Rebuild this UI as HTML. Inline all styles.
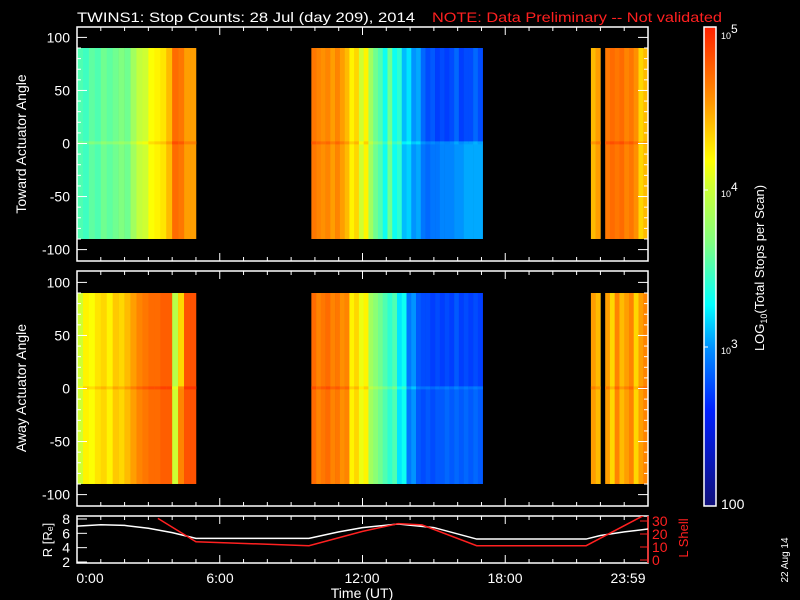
<!DOCTYPE html>
<html><head><meta charset="utf-8"><style>
html,body{margin:0;padding:0;background:#000;}
svg{display:block;font-family:"Liberation Sans",sans-serif;}
</style></head><body>
<svg id="c" width="800" height="600" viewBox="0 0 800 600">
<defs>
<linearGradient id="cbg" x1="0" y1="1" x2="0" y2="0">
<stop offset="0" stop-color="#10107a"/><stop offset="0.2" stop-color="#0020ff"/><stop offset="0.33" stop-color="#0090ff"/>
<stop offset="0.42" stop-color="#00ffff"/><stop offset="0.55" stop-color="#80ff80"/><stop offset="0.67" stop-color="#d0ff30"/>
<stop offset="0.72" stop-color="#ffff00"/><stop offset="0.85" stop-color="#ff9000"/><stop offset="1" stop-color="#ff2000"/>
</linearGradient>
<clipPath id="clipB"><rect x="77" y="516" width="571" height="47"/></clipPath>
</defs>
<text x="77" y="22" fill="#fff" font-size="14" textLength="338" lengthAdjust="spacingAndGlyphs">TWINS1: Stop Counts: 28 Jul (day 209), 2014</text>
<text x="432" y="22" fill="#ff2020" font-size="14" textLength="290" lengthAdjust="spacingAndGlyphs">NOTE: Data Preliminary -- Not validated</text>
<g id="layer"></g>
</svg>
<script>
// ---- data ----
const segStart = [0, 9.85, 21.6, 22.2];
const segBinW = [0.25, 0.2, 0.2, 0.2];
const topUpper = [
 [3.5,3.45,3.55,3.5,3.6,3.55,3.6,3.65,3.6,3.8,3.95,4.0,4.15,4.2,4.25,4.4,4.7,4.65,4.5,4.5],
 [4.65,4.6,4.55,4.6,4.5,4.6,4.5,4.4,4.2,4.3,4.0,4.2,3.8,3.6,3.5,3.3,3.6,3.3,3.4,3.1,3.2,3.0,3.05,2.85,2.75,2.8,2.7,2.75,2.7,2.75,2.85,2.7,2.75,2.75,2.85,2.75],
 [4.4,4.5],
 [4.65,4.7,4.65,4.7,4.6,4.65,4.55,4.3,4.4]
];
const topLower = [
 [3.5,3.45,3.55,3.5,3.6,3.55,3.6,3.65,3.6,3.8,3.95,4.0,4.15,4.2,4.25,4.4,4.7,4.65,4.5,4.5],
 [4.65,4.6,4.55,4.6,4.5,4.6,4.5,4.4,4.2,4.3,4.0,4.2,3.8,3.6,3.5,3.3,3.6,3.3,3.4,3.1,3.15,3.0,3.05,2.9,2.85,2.9,2.9,2.95,2.95,2.95,3.0,3.0,3.05,3.05,3.05,3.05],
 [4.4,4.5],
 [4.65,4.7,4.65,4.7,4.6,4.65,4.55,4.3,4.4]
];
const botUpper = [
 [4.0,4.2,4.15,4.25,4.3,4.2,4.35,4.3,4.4,4.5,4.6,4.65,4.7,4.7,4.75,4.75,3.9,4.3,4.8,4.8],
 [4.7,4.6,4.65,4.7,4.6,4.65,4.55,4.6,4.2,4.3,4.1,4.2,3.8,3.7,3.6,3.5,3.4,3.5,3.2,3.3,2.9,3.0,2.8,2.75,2.75,2.7,2.75,2.7,2.75,2.7,2.8,2.7,2.75,2.7,2.75,2.7],
 [4.5,4.4],
 [4.5,4.3,4.6,4.4,4.5,4.6,4.3,4.5,4.6]
];
const botLower = [
 [4.0,4.2,4.15,4.25,4.3,4.2,4.35,4.3,4.4,4.5,4.6,4.65,4.7,4.7,4.75,4.75,4.0,4.6,4.8,4.8],
 [4.7,4.6,4.65,4.7,4.6,4.65,4.55,4.6,4.2,4.3,4.1,4.2,3.8,3.7,3.6,3.5,3.4,3.5,3.2,3.3,2.9,3.0,2.8,2.75,2.8,2.75,2.8,2.8,2.85,2.8,2.85,2.8,2.85,2.8,2.85,2.8],
 [4.5,4.4],
 [4.5,4.3,4.6,4.4,4.5,4.6,4.3,4.5,4.6]
];
const rHours = [0,1,2,3,4,5,9.75,11,12,13.5,15,16.8,21.4,22,23,24];
const rValues = [7.0,7.2,7.1,6.7,6.1,5.3,5.3,6.2,6.8,7.3,6.8,5.2,5.2,5.7,6.2,6.6];
const lHours = [3.4,5,9.75,12,13.5,14.5,16.8,21.4,24];
const lValues = [32,14,11,22,28,27,11,11,36];
const angleTicks = [100,50,0,-50,-100];
const timeTickLabels = ["0:00","6:00","12:00","18:00","23:59"];
const rTicks = [2,4,6,8];
const lTicks = [0,10,20,30];

// ---- axes ----
const NS='http://www.w3.org/2000/svg';
const L=document.getElementById('layer');
const xT = h => 77 + h*(571/24);
const panels = [{top:27,bot:261,zero:143.5,name:'toward'},{top:271,bot:506,zero:388.5,name:'away'}];
const yA = (p,a) => p.zero - a*1.061;
const yR = r => 562 - (r-2)*7.17;
const yL = l => 560 - l*1.3;
const stops=[[0,[16,16,122]],[0.2,[0,32,255]],[0.33,[0,144,255]],[0.42,[0,255,255]],[0.55,[128,255,128]],[0.67,[208,255,48]],[0.72,[255,255,0]],[0.85,[255,144,0]],[1,[255,32,0]]];
function cmap(v){let f=Math.max(0,Math.min(1,(v-2)/3));for(let i=1;i<stops.length;i++){if(f<=stops[i][0]){const a=stops[i-1],b=stops[i],t=(f-a[0])/(b[0]-a[0]);return 'rgb('+a[1].map((c,k)=>Math.round(c+(b[1][k]-c)*t)).join(',')+')';}}return 'rgb(255,32,0)';}
function el(t,a,p){const e=document.createElementNS(NS,t);for(const k in a)e.setAttribute(k,a[k]);(p||L).appendChild(e);return e;}

function drawPanel(p,upper,lower){
  const g=el('g',{});
  
  
  for(let s=0;s<segStart.length;s++){
    for(let i=0;i<upper[s].length;i++){
      const h0=segStart[s]+i*segBinW[s], x0=xT(h0), w=xT(h0+segBinW[s])-x0+0.3;
      const r1=el('rect',{x:x0,y:yA(p,90),width:w,height:yA(p,0)-yA(p,90),fill:cmap(upper[s][i])},g);
      
      
      const r2=el('rect',{x:x0,y:yA(p,0),width:w,height:yA(p,-90)-yA(p,0),fill:cmap(lower[s][i])},g);
      
      
      const r3=el('rect',{x:x0,y:yA(p,2),width:w,height:3,fill:cmap((upper[s][i]+lower[s][i])/2+0.12)},g);
      
      
    }
  }
  const fr=el('rect',{x:77,y:p.top,width:571,height:p.bot-p.top,fill:'none',stroke:'#fff','stroke-width':1.5});
  
  
  for(let a=-100;a<=100;a+=10){const y=yA(p,a),len=a%50===0?10:4;
    el('line',{x1:77,x2:77+len,y1:y,y2:y,stroke:'#fff'});el('line',{x1:648,x2:648-len,y1:y,y2:y,stroke:'#fff'});}
  angleTicks.forEach(a=>{const t=el('text',{x:70,y:yA(p,a)+5,fill:'#fff','font-size':14,'text-anchor':'end'});t.textContent=a;
    });
  for(let h=0;h<=24;h++){const x=xT(h),len=h%6===0?8:4;
    el('line',{x1:x,x2:x,y1:p.bot,y2:p.bot-len,stroke:'#fff'});el('line',{x1:x,x2:x,y1:p.top,y2:p.top+len,stroke:'#fff'});}
}
drawPanel(panels[0],topUpper,topLower);
drawPanel(panels[1],botUpper,botLower);
[['Toward Actuator Angle',144,'toward-y-axis-title'],['Away Actuator Angle',388,'away-y-axis-title']].forEach(([s,y,n])=>{
  const t=el('text',{x:0,y:0,fill:'#fff','font-size':14,'text-anchor':'middle',transform:'translate(26,'+y+') rotate(-90)'});t.textContent=s;
  });

// ---- orbit panel ----
const ob=el('rect',{x:77,y:516,width:571,height:47,fill:'none',stroke:'#fff','stroke-width':1.5});

for(let h=0;h<=24;h++){const x=xT(h),len=h%6===0?8:4;
  el('line',{x1:x,x2:x,y1:563,y2:563-len,stroke:'#fff'});el('line',{x1:x,x2:x,y1:516,y2:516+len,stroke:'#fff'});}
rTicks.forEach(r=>{el('line',{x1:77,x2:87,y1:yR(r),y2:yR(r),stroke:'#fff'});
  const t=el('text',{x:70,y:yR(r)+5,fill:'#fff','font-size':14,'text-anchor':'end'});t.textContent=r;
  });
el('line',{x1:648,x2:648,y1:516,y2:563,stroke:'#ff2020','stroke-width':1.5});
lTicks.forEach(v=>{el('line',{x1:648,x2:640,y1:yL(v),y2:yL(v),stroke:'#ff2020'});
  const t=el('text',{x:652,y:yL(v)+5,fill:'#ff2020','font-size':14});t.textContent=v;
  });
const rl=el('polyline',{points:rHours.map((h,i)=>xT(h)+','+yR(rValues[i])).join(' '),fill:'none',stroke:'#fff','stroke-width':1.5,'clip-path':'url(#clipB)'});

const ll=el('polyline',{points:lHours.map((h,i)=>xT(h)+','+yL(lValues[i])).join(' '),fill:'none',stroke:'#ff2020','stroke-width':1.5,'clip-path':'url(#clipB)'});

let t=el('text',{x:0,y:0,fill:'#fff','font-size':13,'text-anchor':'middle',transform:'translate(52,540) rotate(-90)'});t.textContent='R [R\u2091]';

t=el('text',{x:0,y:0,fill:'#ff2020','font-size':13,'text-anchor':'middle',transform:'translate(688,538) rotate(-90)'});t.textContent='L Shell';

const tlx=[90,220,362,505,628];
timeTickLabels.forEach((s,i)=>{const e=el('text',{x:tlx[i],y:583,fill:'#fff','font-size':14,'text-anchor':'middle'});e.textContent=s;
  });
t=el('text',{x:362,y:598,fill:'#fff','font-size':14,'text-anchor':'middle'});t.textContent='Time (UT)';


// ---- colorbar ----
const cb=el('rect',{x:704,y:27,width:12,height:479,fill:'url(#cbg)',stroke:'#fff','stroke-width':1.5});

[[5,32],[4,190],[3,347]].forEach(([e,y])=>{const g=el('text',{x:721,y:y+7,fill:'#fff','font-size':9});
  g.innerHTML='10<tspan dy="-6" font-size="12">'+e+'</tspan>';
  
  el('line',{x1:704,x2:708,y1:y+(e===5?-5:0),y2:y+(e===5?-5:0),stroke:'#fff'});});
t=el('text',{x:721,y:509,fill:'#fff','font-size':14});t.textContent='100';

t=el('text',{x:0,y:0,fill:'#fff','font-size':13,'text-anchor':'middle',transform:'translate(764,268) rotate(-90)'});
t.innerHTML='LOG<tspan font-size="9" dy="3">10</tspan><tspan dy="-3">(Total Stops per Scan)</tspan>';

t=el('text',{x:0,y:0,fill:'#fff','font-size':10,'text-anchor':'middle',transform:'translate(788,560) rotate(-90)'});t.textContent='22 Aug 14';

</script>
</body></html>
